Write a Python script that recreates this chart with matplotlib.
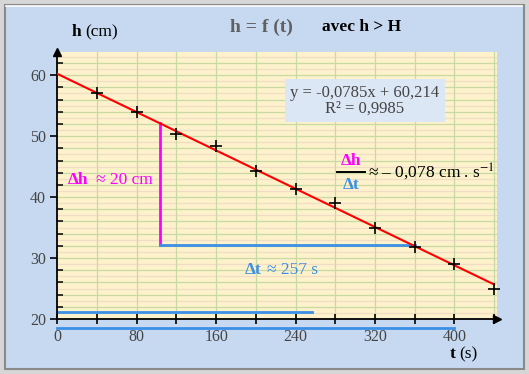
import numpy as np
import matplotlib
matplotlib.use("Agg")
import matplotlib.pyplot as plt
from matplotlib.patches import Rectangle
from matplotlib.lines import Line2D

# ── données ────────────────────────────────────────────────
t_s  = [40, 80, 120, 160, 200, 240, 280, 320, 360, 400, 440]
h_cm = [57.0, 53.9, 50.3, 48.4, 44.2, 41.3, 39.1, 34.9, 31.8, 29.1, 25.0]

slope, intercept = -0.0785, 60.214      # courbe de tendance
trend_t = [0, 440]

dt_start, dt_len = 103.5, 257           # construction Δh / Δt
dh_top, dh_bottom = 52.1, 32.2
bar_top_h, bar_low_h = 21.2, 18.6       # traits bleus en bas
bar_low_end = 400

x_ticks  = list(range(0, 441, 40))
x_labels = ["0", "", "80", "", "160", "", "240", "", "320", "", "400", ""]
y_ticks  = [20, 30, 40, 50, 60]

# ── couleurs ───────────────────────────────────────────────
C_BG    = "#c6d9f1"
C_PLOT  = "#fdf2cb"
C_GRID  = "#c9d9a3"
C_GRID2 = "#f2dcc8"
C_RED   = "#ff0000"
C_MAG   = "#ff00ff"
C_BLUE  = "#3b8fe6"
C_TXT   = "#454545"

W, H = 529, 374
plt.rcParams["font.family"] = ["Liberation Serif", "DejaVu Serif"]
plt.rcParams["mathtext.fontset"] = "stix"


def px(x, y):
    return x / W, 1 - y / H


fig = plt.figure(figsize=(W / 100, H / 100), dpi=100, facecolor="#d6d6d6")

# cadre
fig.patches.append(Rectangle(px(5, 369), 519 / W, 364 / H, transform=fig.transFigure,
                             facecolor=C_BG, edgecolor="#8a8a8a", lw=1.5, zorder=-10))
fig.lines.append(Line2D([6 / W, 522 / W], [1 - 5.5 / H] * 2, transform=fig.transFigure,
                        color="white", lw=1.2, zorder=-9))

ax = fig.add_axes([57.3 / W, 1 - 319 / H, 439.7 / W, 267 / H])
ax.set_facecolor(C_PLOT)
ax.set_xlim(0, 443)
ax.set_ylim(20, 63.8)

# grille
for yv in range(21, 64):
    ax.axhline(yv, color=C_GRID if yv % 2 == 0 else C_GRID2, lw=0.9, zorder=0)
for xv in x_ticks[1:]:
    ax.axvline(xv, color=C_GRID, lw=0.9, zorder=0)

# tendance + points
tt = np.array(trend_t)
ax.plot(tt, slope * tt + intercept, color=C_RED, lw=1.5, zorder=3)
ax.plot(t_s, h_cm, "+", color="black", ms=9, mew=1.2, zorder=4, clip_on=False)

# construction Δh, Δt
ax.plot([dt_start, dt_start], [dh_top, dh_bottom], color=C_MAG, lw=2, zorder=2)
ax.plot([dt_start, dt_start + dt_len], [dh_bottom, dh_bottom], color=C_BLUE, lw=2, zorder=2)
ax.plot([0, dt_len], [bar_top_h, bar_top_h], color=C_BLUE, lw=2, zorder=2)
ax.plot([0, bar_low_end], [bar_low_h, bar_low_h], color=C_BLUE, lw=2,
        zorder=2, clip_on=False)

# axes
for s in ["top", "right"]:
    ax.spines[s].set_visible(False)
for s in ["left", "bottom"]:
    ax.spines[s].set_color("black")
    ax.spines[s].set_linewidth(1.3)
ax.plot(1, 0, ">", color="black", ms=6, transform=ax.transAxes, clip_on=False)
ax.plot(0, 1, "^", color="black", ms=6, transform=ax.transAxes, clip_on=False)

ax.set_xticks(x_ticks)
ax.set_xticklabels(x_labels)
ax.set_yticks(y_ticks)
ax.set_yticks(range(22, 64, 2), minor=True)
ax.tick_params(axis="x", direction="inout", length=7, width=1.2, labelsize=11.5,
               labelcolor=C_TXT, pad=4)
ax.tick_params(axis="y", which="major", direction="out", length=5, width=1.2,
               labelsize=11.5, labelcolor=C_TXT, pad=3)
ax.tick_params(axis="y", which="minor", direction="in", length=4, width=1.1)

# équation
ax.text(310, 55.8, "y = -0,0785x + 60,214\nR² = 0,9985", ha="center", va="center",
        fontsize=12, color=C_TXT, linespacing=1.0, zorder=5,
        bbox=dict(facecolor="#dce7f5", edgecolor="none", pad=4))

# titres
fig.text(*px(261, 27), "h = f (t)", ha="center", va="center", fontsize=14,
         fontweight="bold", color="#606060")
fig.text(*px(362, 27), "avec h > H", ha="center", va="center", fontsize=12.5,
         fontweight="bold", color="black")
fig.text(*px(72, 32), "h", ha="left", va="center", fontsize=12.5, fontweight="bold")
fig.text(*px(85, 32), "(cm)", ha="left", va="center", fontsize=12.5)
fig.text(*px(450, 354), "t", ha="left", va="center", fontsize=12.5, fontweight="bold")
fig.text(*px(459, 354), "(s)", ha="left", va="center", fontsize=12.5)

# annotations
fig.text(*px(68, 180), "Δh", ha="left", va="center", fontsize=12.5,
         fontweight="bold", color=C_MAG)
fig.text(*px(96, 180), "≈ 20 cm", ha="left", va="center", fontsize=12.5, color=C_MAG)
fig.text(*px(245, 270), "Δt", ha="left", va="center", fontsize=12.5,
         fontweight="bold", color=C_BLUE)
fig.text(*px(267, 270), "≈ 257 s", ha="left", va="center", fontsize=12.5, color=C_BLUE)

fig.text(*px(351, 161), "Δh", ha="center", va="center", fontsize=12.5,
         fontweight="bold", color=C_MAG)
fig.text(*px(351, 185), "Δt", ha="center", va="center", fontsize=12.5,
         fontweight="bold", color=C_BLUE)
fig.lines.append(Line2D([337 / W, 365 / W], [1 - 172.5 / H] * 2,
                        transform=fig.transFigure, color="black", lw=1.4))
fig.text(*px(368, 172), "≈ – 0,078 cm . s$^{-1}$", ha="left", va="center",
         fontsize=12.5, color="black")

fig.savefig("out.png", dpi=100, facecolor=fig.get_facecolor())
